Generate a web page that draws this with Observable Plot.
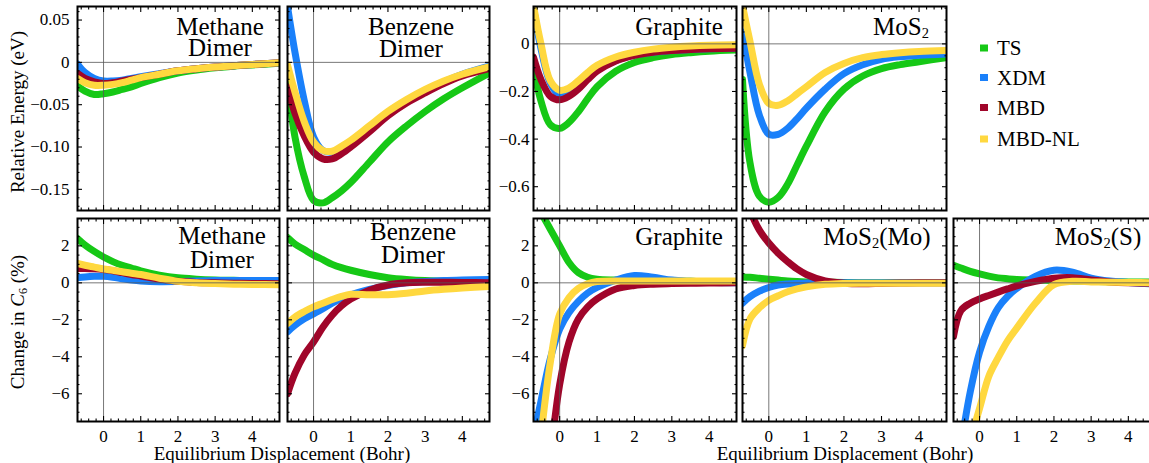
<!DOCTYPE html>
<html><head><meta charset="utf-8">
<script src="https://cdn.jsdelivr.net/npm/d3@7"></script>
<script src="https://cdn.jsdelivr.net/npm/@observablehq/plot@0.6"></script>
<style>
html,body{margin:0;padding:0;background:#fff;overflow:hidden;}
#fig{position:relative;width:1149px;height:463px;overflow:hidden;background:#fff;font-family:"Liberation Serif","Times New Roman","DejaVu Serif",serif;}
#fig > svg{position:absolute;}
#fig text{font-family:"Liberation Serif","Times New Roman","DejaVu Serif",serif;}
</style></head><body><div id="fig"></div>
<script>
// ---------------- data ----------------
const X = [-0.7, -0.5, -0.25, 0, 0.25, 0.5, 0.75, 1, 1.5, 2, 2.5, 3, 3.5, 4, 4.75];
const seriesNames = ["TS", "XDM", "MBD", "MBD-NL"];
const seriesColors = ["#16c816", "#1a80fa", "#a0052a", "#ffd83f"];

// Relative energy (eV)
const methaneE_TS  = [-0.028,-0.034,-0.038,-0.037,-0.035,-0.032,-0.029,-0.025,-0.018,-0.0125,-0.009,-0.0065,-0.0045,-0.003,-0.001];
const methaneE_XDM = [-0.002,-0.012,-0.019,-0.022,-0.022,-0.021,-0.019,-0.017,-0.0135,-0.010,-0.0075,-0.0055,-0.004,-0.0025,-0.0005];
const methaneE_MBD = [-0.013,-0.019,-0.023,-0.025,-0.024,-0.022,-0.020,-0.018,-0.014,-0.010,-0.0075,-0.0055,-0.004,-0.0025,-0.0005];
const methaneE_NL  = [-0.019,-0.024,-0.027,-0.027,-0.026,-0.024,-0.021,-0.018,-0.014,-0.010,-0.0075,-0.0055,-0.004,-0.0025,-0.0005];

const benzeneE_TS  = [-0.025,-0.088,-0.135,-0.163,-0.166,-0.160,-0.152,-0.142,-0.118,-0.094,-0.075,-0.058,-0.043,-0.030,-0.012];
const benzeneE_XDM = [0.066,0.012,-0.045,-0.088,-0.104,-0.106,-0.101,-0.094,-0.078,-0.062,-0.047,-0.034,-0.023,-0.014,-0.004];
const benzeneE_MBD = [-0.029,-0.060,-0.087,-0.106,-0.114,-0.114,-0.108,-0.100,-0.082,-0.063,-0.048,-0.036,-0.025,-0.016,-0.007];
const benzeneE_NL  = [-0.003,-0.035,-0.070,-0.094,-0.104,-0.105,-0.099,-0.092,-0.075,-0.058,-0.044,-0.032,-0.022,-0.014,-0.005];

const graphiteE_TS  = [-0.10,-0.24,-0.34,-0.355,-0.33,-0.285,-0.23,-0.18,-0.115,-0.078,-0.058,-0.045,-0.037,-0.031,-0.026];
const graphiteE_XDM = [0.15,-0.02,-0.165,-0.215,-0.205,-0.175,-0.14,-0.11,-0.07,-0.047,-0.035,-0.028,-0.024,-0.021,-0.018];
const graphiteE_MBD = [-0.056,-0.15,-0.22,-0.235,-0.22,-0.19,-0.15,-0.115,-0.072,-0.048,-0.035,-0.028,-0.024,-0.021,-0.018];
const graphiteE_NL  = [0.16,0.0,-0.155,-0.195,-0.185,-0.155,-0.12,-0.09,-0.055,-0.035,-0.022,-0.014,-0.009,-0.006,-0.004];

const mos2E_TS  = [-0.15,-0.50,-0.64,-0.665,-0.645,-0.59,-0.51,-0.43,-0.285,-0.19,-0.135,-0.104,-0.087,-0.075,-0.057];
const mos2E_XDM = [0.05,-0.12,-0.30,-0.38,-0.38,-0.355,-0.315,-0.27,-0.19,-0.125,-0.088,-0.065,-0.054,-0.048,-0.042];
const mos2E_NL  = [0.16,0.01,-0.17,-0.25,-0.258,-0.24,-0.21,-0.18,-0.12,-0.082,-0.058,-0.045,-0.037,-0.032,-0.028];

// Change in C6 (%)
const methaneC_TS  = [2.4,2.05,1.7,1.4,1.15,0.95,0.8,0.65,0.42,0.27,0.2,0.16,0.14,0.12,0.1];
const methaneC_XDM = [0.28,0.32,0.35,0.35,0.3,0.22,0.15,0.1,0.06,0.07,0.1,0.12,0.13,0.13,0.13];
const methaneC_MBD = [0.78,0.78,0.76,0.72,0.65,0.55,0.45,0.37,0.2,0.08,0.02,0,-0.02,-0.03,-0.05];
const methaneC_NL  = [1.05,0.95,0.85,0.75,0.68,0.6,0.52,0.45,0.25,0.08,0.0,-0.04,-0.07,-0.09,-0.1];

const benzeneC_TS  = [2.45,2.1,1.8,1.5,1.25,1.0,0.82,0.68,0.45,0.28,0.18,0.12,0.1,0.08,0.07];
const benzeneC_XDM = [-2.65,-2.3,-1.95,-1.68,-1.4,-1.1,-0.85,-0.65,-0.35,-0.15,0.0,0.07,0.12,0.15,0.18];
const benzeneC_MBD = [-6.0,-4.9,-3.9,-3.2,-2.4,-1.75,-1.25,-0.88,-0.4,-0.12,0.0,0.03,0.03,0.02,0.0];
const benzeneC_NL  = [-2.2,-1.85,-1.55,-1.3,-1.1,-0.9,-0.73,-0.62,-0.64,-0.64,-0.56,-0.44,-0.35,-0.28,-0.2];

const graphiteC_TS  = [4.5,3.8,2.9,2.0,1.1,0.55,0.3,0.2,0.15,0.12,0.1,0.1,0.08,0.07,0.05];
const graphiteC_XDM = [-8.3,-6.4,-4.1,-2.5,-1.6,-1.0,-0.55,-0.25,0.15,0.4,0.3,0.15,0.08,0.03,0.0];
const graphiteC_MBD = [null,null,-9.5,-5.5,-3.2,-1.95,-1.3,-0.87,-0.33,-0.14,-0.07,-0.04,-0.02,-0.01,0];
const graphiteC_NL  = [null,-8.3,-4.3,-1.7,-0.8,-0.3,-0.05,0.07,0.1,0.1,0.1,0.1,0.1,0.1,0.1];

const mos2MoC_TS  = [0.32,0.3,0.25,0.2,0.15,0.1,0.07,0.05,0.03,0.02,0.02,0.02,0.02,0.02,0.02];
const mos2MoC_XDM = [-1.1,-0.75,-0.45,-0.25,-0.12,-0.06,-0.03,-0.01,0,0,0,0,0,0,0];
const mos2MoC_MBD = [5.0,3.9,2.85,2.15,1.6,1.15,0.75,0.45,0.1,-0.02,-0.05,-0.03,-0.01,0,0];
const mos2MoC_NL  = [-3.4,-1.95,-1.35,-0.95,-0.7,-0.48,-0.33,-0.22,-0.08,-0.03,-0.02,-0.02,-0.02,-0.02,-0.02];

const mos2SC_TS  = [0.95,0.8,0.62,0.48,0.36,0.27,0.22,0.18,0.15,0.13,0.1,0.08,0.06,0.05,0.04];
const mos2SC_XDM = [null,-8.8,-5.9,-3.75,-2.35,-1.35,-0.74,-0.3,0.35,0.68,0.58,0.26,0.1,0.02,-0.08];
const mos2SC_MBD = [-2.9,-1.5,-1.1,-0.87,-0.68,-0.5,-0.33,-0.17,0.08,0.25,0.28,0.15,0.05,0.0,-0.02];
const mos2SC_NL  = [null,null,-8.5,-6.8,-5.05,-4.05,-3.15,-2.45,-1.1,-0.1,0.08,0.05,0.03,0.02,0.0];

// ticks
const xTicks = [0, 1, 2, 3, 4];
const xTickLabels = ["0", "1", "2", "3", "4"];
const eTicksA = [0.05, 0, -0.05, -0.10, -0.15];
const eTickLabelsA = ["0.05", "0", "\u22120.05", "\u22120.10", "\u22120.15"];
const eTicksB = [0, -0.2, -0.4, -0.6];
const eTickLabelsB = ["0", "\u22120.2", "\u22120.4", "\u22120.6"];
const cTicks = [2, 0, -2, -4, -6];
const cTickLabels = ["2", "0", "\u22122", "\u22124", "\u22126"];

const xMinor = d3.range(-3, 24).filter(i => i % 5 !== 0).map(i => i * 0.2);
const eMinorA = d3.range(-17, 7).filter(i => i % 5 !== 0).map(i => i * 0.01);
const eMinorB = d3.range(-13, 4).filter(i => i % 4 !== 0).map(i => i * 0.05);
const cMinor = d3.range(-14, 7).filter(i => i % 4 !== 0).map(i => i * 0.5);

const titles = [
  ["Methane", "Dimer"], ["Benzene", "Dimer"], ["Graphite"], ["MoS_2"],
  ["Methane", "Dimer"], ["Benzene", "Dimer"], ["Graphite"], ["MoS_2(Mo)"], ["MoS_2(S)"]
];

// ---------------- layout ----------------
const FONT = '"Liberation Serif","Times New Roman","DejaVu Serif",serif';
const colLeft = [77, 287, 533, 742, 953];
const colWidth = [202, 202, 203, 204, 202];
const rowTop = [6, 218];
const rowHeight = [204, 203];
const M = {l: 70, r: 12, t: 12, b: 34};
const xDomain = [-0.7, 4.73];
const domE_A = [-0.175, 0.066];
const domE_B = [-0.70, 0.157];
const domC = [-7.5, 3.48];
const titlePos = [
  {cx: 220, b: [35, 56]}, {cx: 411, b: [35, 57]}, {cx: 679, b: [35]}, {cx: 901, b: [35]},
  {cx: 222, b: [244, 268]}, {cx: 413, b: [240, 263]}, {cx: 679, b: [245]}, {cx: 877, b: [245]}, {cx: 1098, b: [245]}
];

const panels = [
  {row:0,col:0,dom:domE_A,ticks:eTicksA,labels:eTickLabelsA,minor:eMinorA,showY:true,pad:8,showX:false,series:[methaneE_TS,methaneE_XDM,methaneE_MBD,methaneE_NL]},
  {row:0,col:1,dom:domE_A,ticks:eTicksA,labels:eTickLabelsA,minor:eMinorA,showY:false,showX:false,series:[benzeneE_TS,benzeneE_XDM,benzeneE_MBD,benzeneE_NL]},
  {row:0,col:2,dom:domE_B,ticks:eTicksB,labels:eTickLabelsB,minor:eMinorB,showY:true,pad:4,showX:false,series:[graphiteE_TS,graphiteE_XDM,graphiteE_MBD,graphiteE_NL]},
  {row:0,col:3,dom:domE_B,ticks:eTicksB,labels:eTickLabelsB,minor:eMinorB,showY:false,showX:false,series:[mos2E_TS,mos2E_XDM,null,mos2E_NL]},
  {row:1,col:0,dom:domC,ticks:cTicks,labels:cTickLabels,minor:cMinor,showY:true,pad:8,showX:true,series:[methaneC_TS,methaneC_XDM,methaneC_MBD,methaneC_NL]},
  {row:1,col:1,dom:domC,ticks:cTicks,labels:cTickLabels,minor:cMinor,showY:false,showX:true,series:[benzeneC_TS,benzeneC_XDM,benzeneC_MBD,benzeneC_NL]},
  {row:1,col:2,dom:domC,ticks:cTicks,labels:cTickLabels,minor:cMinor,showY:true,pad:4,showX:true,series:[graphiteC_TS,graphiteC_XDM,graphiteC_MBD,graphiteC_NL]},
  {row:1,col:3,dom:domC,ticks:cTicks,labels:cTickLabels,minor:cMinor,showY:false,showX:true,series:[mos2MoC_TS,mos2MoC_XDM,mos2MoC_MBD,mos2MoC_NL]},
  {row:1,col:4,dom:domC,ticks:cTicks,labels:cTickLabels,minor:cMinor,showY:false,showX:true,series:[mos2SC_TS,mos2SC_XDM,mos2SC_MBD,mos2SC_NL]}
];

const fig = document.getElementById("fig");
const tk = {stroke: "black", strokeWidth: 1.1, label: null};

panels.forEach(p => {
  const w = colWidth[p.col], h = rowHeight[p.row];
  const marks = [];
  p.series.forEach((vals, k) => {
    if (!vals) return;
    const rows = X.map((x, i) => ({x, y: vals[i], s: seriesNames[k]})).filter(d => d.y != null);
    marks.push(Plot.line(rows, {x: "x", y: "y", stroke: seriesColors[k], strokeWidth: 7, curve: "catmull-rom", clip: true}));
  });
  marks.push(Plot.ruleX([0], {stroke: "#555", strokeWidth: 0.8}));
  marks.push(Plot.ruleY([0], {stroke: "#555", strokeWidth: 0.8}));
  marks.push(Plot.axisX(xTicks, {...tk, anchor: "bottom", tickSize: -5, tickPadding: 13,
    tickFormat: d => xTickLabels[xTicks.indexOf(d)], fill: p.showX ? "black" : "none"}));
  marks.push(Plot.axisX(xTicks, {...tk, anchor: "top", tickSize: -5, fill: "none"}));
  marks.push(Plot.axisX(xMinor, {...tk, anchor: "bottom", tickSize: -2.5, fill: "none"}));
  marks.push(Plot.axisX(xMinor, {...tk, anchor: "top", tickSize: -2.5, fill: "none"}));
  marks.push(Plot.axisY(p.ticks, {...tk, anchor: "left", tickSize: -5, tickPadding: 5 + (p.pad || 8),
    tickFormat: d => p.labels[p.ticks.indexOf(d)], fill: p.showY ? "black" : "none"}));
  marks.push(Plot.axisY(p.ticks, {...tk, anchor: "right", tickSize: -5, fill: "none"}));
  marks.push(Plot.axisY(p.minor, {...tk, anchor: "left", tickSize: -2.5, fill: "none"}));
  marks.push(Plot.axisY(p.minor, {...tk, anchor: "right", tickSize: -2.5, fill: "none"}));
  marks.push(Plot.frame({stroke: "black", strokeWidth: 2}));

  const svg = Plot.plot({
    width: w + M.l + M.r, height: h + M.t + M.b,
    marginLeft: M.l, marginRight: M.r, marginTop: M.t, marginBottom: M.b,
    x: {domain: xDomain}, y: {domain: p.dom},
    style: {fontFamily: FONT, fontSize: "17px", background: "transparent", overflow: "visible", color: "black"},
    marks
  });
  svg.style.position = "absolute";
  svg.style.left = (colLeft[p.col] - M.l) + "px";
  svg.style.top = (rowTop[p.row] - M.t) + "px";
  svg.style.maxWidth = "none";
  fig.appendChild(svg);
});

// ---------------- text overlay ----------------
const ov = d3.select(fig).append("svg")
  .attr("width", 1149).attr("height", 463)
  .style("position", "absolute").style("left", "0px").style("top", "0px")
  .style("pointer-events", "none")
  .style("font-family", FONT).attr("fill", "black");

function rich(g, str, x, y, size, anchor) {
  const t = g.append("text").attr("x", x).attr("y", y).attr("text-anchor", anchor).attr("font-size", size);
  const sub = size * 0.1;
  let shift = 0;
  str.split(/(_\d)/).forEach(part => {
    if (!part) return;
    if (/^_\d$/.test(part)) {
      t.append("tspan").attr("font-size", size * 0.58).attr("dy", sub - shift).text(part[1]);
      shift = sub;
    } else {
      t.append("tspan").attr("dy", -shift).text(part);
      shift = 0;
    }
  });
  return t;
}

titles.forEach((lines, i) => {
  lines.forEach((line, j) => rich(ov, line, titlePos[i].cx, titlePos[i].b[j], 25, "middle"));
});

ov.append("text").attr("transform", "translate(23.5,112) rotate(-90)")
  .attr("text-anchor", "middle").attr("font-size", 19).text("Relative Energy (eV)");
const cl = ov.append("text").attr("transform", "translate(23.5,322) rotate(-90)")
  .attr("text-anchor", "middle").attr("font-size", 19);
cl.append("tspan").text("Change in ");
cl.append("tspan").attr("font-style", "italic").text("C");
cl.append("tspan").attr("font-size", 12).attr("dy", 3).text("6");
cl.append("tspan").attr("dy", -3).text(" (%)");

const xLabel = "Equilibrium Displacement (Bohr)";
ov.append("text").attr("x", 282).attr("y", 460).attr("text-anchor", "middle").attr("font-size", 19).text(xLabel);
ov.append("text").attr("x", 845).attr("y", 460).attr("text-anchor", "middle").attr("font-size", 19).text(xLabel);

const legY = [48, 77.5, 107.5, 139];
seriesNames.forEach((name, i) => {
  ov.append("rect").attr("x", 980).attr("y", legY[i] - 3.5).attr("width", 8).attr("height", 7).attr("fill", seriesColors[i]);
  ov.append("text").attr("x", 997).attr("y", legY[i] + 7).attr("font-size", 21).text(name);
});
</script></body></html>
